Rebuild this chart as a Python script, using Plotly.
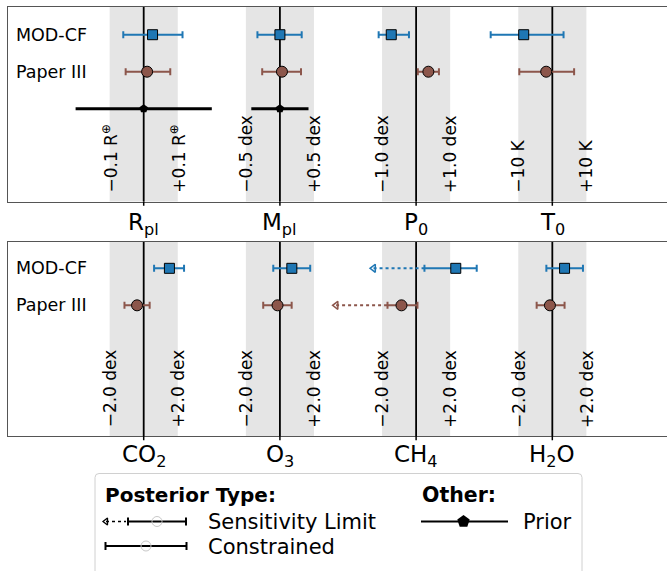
import plotly.graph_objects as go

W, H = 667, 571
FONT = "DejaVu Sans"
BLUE = "#1f77b4"
BROWN = "#8c564b"

# ---------------- data ----------------
params_top = ["R<sub>pl</sub>", "M<sub>pl</sub>", "P<sub>0</sub>", "T<sub>0</sub>"]
params_bot = ["CO<sub>2</sub>", "O<sub>3</sub>", "CH<sub>4</sub>", "H<sub>2</sub>O"]
# half-width of the grey band, in physical units
scale_top = [0.1, 0.5, 1.0, 10.0]
scale_bot = [2.0, 2.0, 2.0, 2.0]
band_lo_top = ["−0.1 R<sup>⊕</sup>", "−0.5 dex", "−1.0 dex", "−10 K"]
band_hi_top = ["+0.1 R<sup>⊕</sup>", "+0.5 dex", "+1.0 dex", "+10 K"]
band_lo_bot = ["−2.0 dex", "−2.0 dex", "−2.0 dex", "−2.0 dex"]
band_hi_bot = ["+2.0 dex", "+2.0 dex", "+2.0 dex", "+2.0 dex"]

# offsets from truth (physical units)
modcf_top_val = [0.026, 0.0, -0.73, -8.4]
modcf_top_lo = [-0.060, -0.33, -1.10, -18.1]
modcf_top_hi = [0.114, 0.32, -0.21, 3.3]
paper_top_val = [0.010, 0.03, 0.36, -1.8]
paper_top_lo = [-0.053, -0.26, 0.05, -9.7]
paper_top_hi = [0.078, 0.31, 0.67, 6.4]
prior_params = [0, 1]
prior_lo = [-0.20, -0.42]
prior_hi = [0.20, 0.42]

modcf_bot_val = [1.51, 0.70, 2.33, 0.72]
modcf_bot_lo = [0.61, -0.39, 0.49, -0.35]
modcf_bot_hi = [2.37, 1.78, 3.56, 1.80]
paper_bot_val = [-0.39, -0.14, -0.86, -0.14]
paper_bot_lo = [-1.13, -0.98, -1.68, -0.92]
paper_bot_hi = [0.35, 0.69, 0.08, 0.72]
# sensitivity limits (index of parameter, lower extent)
modcf_bot_limit = {2: -2.5}
paper_bot_limit = {2: -4.7}

row_names = ["MOD-CF", "Paper III"]
BAND = 0.25


def tx(k, v, s):
    return k + BAND * v / s


fig = go.Figure()

def add_panel(xa, ya, scales, vals_list, lims_list, colors, symbols, limits_list):
    for r, (vals, (lo, hi), col, sym, limd) in enumerate(
            zip(vals_list, lims_list, colors, symbols, limits_list)):
        xs = [tx(k, v, scales[k]) for k, v in enumerate(vals)]
        xlo = [tx(k, v, scales[k]) for k, v in enumerate(lo)]
        xhi = [tx(k, v, scales[k]) for k, v in enumerate(hi)]
        # sensitivity-limit dotted extensions
        for k, lim in limd.items():
            xl = tx(k, lim, scales[k])
            fig.add_trace(go.Scatter(x=[xl, xlo[k]], y=[r, r], mode="lines",
                                     line=dict(color=col, width=2, dash="dot"),
                                     xaxis=xa, yaxis=ya, showlegend=False, hoverinfo="skip"))
            fig.add_trace(go.Scatter(x=[xl], y=[r], mode="markers",
                                     marker=dict(symbol="triangle-left-open", size=7,
                                                 color=col, line=dict(color=col, width=1.5)),
                                     xaxis=xa, yaxis=ya, showlegend=False, hoverinfo="skip"))
        fig.add_trace(go.Scatter(
            x=xs, y=[r] * len(xs), mode="markers",
            marker=dict(symbol=sym, size=11 if sym == "circle" else 10, color=col,
                        line=dict(color="black", width=1)),
            error_x=dict(type="data", symmetric=False,
                         array=[h - x for h, x in zip(xhi, xs)],
                         arrayminus=[x - l for l, x in zip(xlo, xs)],
                         color=col, thickness=2, width=3.5),
            xaxis=xa, yaxis=ya, showlegend=False))


add_panel("x", "y", scale_top,
          [modcf_top_val, paper_top_val],
          [(modcf_top_lo, modcf_top_hi), (paper_top_lo, paper_top_hi)],
          [BLUE, BROWN], ["square", "circle"], [{}, {}])
add_panel("x2", "y2", scale_bot,
          [modcf_bot_val, paper_bot_val],
          [(modcf_bot_lo, modcf_bot_hi), (paper_bot_lo, paper_bot_hi)],
          [BLUE, BROWN], ["square", "circle"], [modcf_bot_limit, paper_bot_limit])

# priors
px = [tx(k, 0.0, scale_top[k]) for k in prior_params]
fig.add_trace(go.Scatter(
    x=px, y=[2] * len(px), mode="markers",
    marker=dict(symbol="pentagon", size=9, color="black"),
    error_x=dict(type="data", symmetric=False,
                 array=[tx(k, h, scale_top[k]) - x for k, h, x in zip(prior_params, prior_hi, px)],
                 arrayminus=[x - tx(k, l, scale_top[k]) for k, l, x in zip(prior_params, prior_lo, px)],
                 color="black", thickness=3, width=0),
    xaxis="x", yaxis="y", showlegend=False))

shapes = []
annotations = []
for xa, ya, labs_lo, labs_hi, ylab, params, ytick in [
        ("x", "y", band_lo_top, band_hi_top, 4.33, params_top, -0.033),
        ("x2", "y2", band_lo_bot, band_hi_bot, 4.36, params_bot, -0.022)]:
    for k in range(4):
        shapes.append(dict(type="rect", xref=xa, yref=ya + " domain", x0=k - BAND, x1=k + BAND,
                           y0=0, y1=1, fillcolor="#e5e5e5", line=dict(width=0), layer="below"))
        shapes.append(dict(type="line", xref=xa, yref=ya + " domain", x0=k, x1=k, y0=0, y1=1,
                           line=dict(color="black", width=1.8), layer="below"))
        # small tick mark below the axis
        shapes.append(dict(type="line", xref=xa, yref=ya + " domain", x0=k, x1=k, y0=-0.022, y1=0,
                           line=dict(color="black", width=1.5)))
        # category label under the tick
        annotations.append(dict(x=k, y=ytick, xref=xa, yref=ya + " domain", text=params[k],
                                showarrow=False, xanchor="center", yanchor="top", borderpad=0,
                                font=dict(family=FONT, size=23, color="black")))
        for xx, t in [(k - BAND, labs_lo[k]), (k + BAND, labs_hi[k])]:
            annotations.append(dict(x=xx, y=ylab, xref=xa, yref=ya, text=t, textangle=-90,
                                    showarrow=False, xanchor="center", yanchor="bottom",
                                    font=dict(family=FONT, size=17, color="black")))
    for r, nm in enumerate(row_names):
        annotations.append(dict(x=14 / W, y=r, xref="paper", yref=ya, text=nm, showarrow=False,
                                xanchor="left", yanchor="middle",
                                font=dict(family=FONT, size=17.5, color="black")))

# ---------------- legend (pixel coordinates on an overlay axis) ----------------
L = dict(xaxis="x3", yaxis="y3", showlegend=False, hoverinfo="skip")
shapes.append(dict(type="path", xref="x3", yref="y3",
                   path="M 99,473.5 L 578,473.5 Q 582,473.5 582,477.5 L 582,590 L 95,590 L 95,477.5 Q 95,473.5 99,473.5 Z",
                   fillcolor="white", line=dict(color="#d0d0d0", width=1), layer="below"))
# sensitivity limit symbol
fig.add_trace(go.Scatter(x=[106, 126], y=[521.5, 521.5], mode="lines",
                         line=dict(color="black", width=1.5, dash="dot"), **L))
fig.add_trace(go.Scatter(x=[106], y=[521.5], mode="markers",
                         marker=dict(symbol="triangle-left-open", size=6, color="black",
                                     line=dict(color="black", width=1.3)), **L))
fig.add_trace(go.Scatter(x=[157], y=[521.5], mode="markers",
                         marker=dict(symbol="circle", size=10, color="rgba(0,0,0,0)",
                                     line=dict(color="#c8c8c8", width=1)),
                         error_x=dict(type="data", symmetric=False, array=[29], arrayminus=[29],
                                      color="black", thickness=2, width=4), **L))
# constrained symbol
fig.add_trace(go.Scatter(x=[146], y=[546], mode="markers",
                         marker=dict(symbol="circle", size=10, color="rgba(0,0,0,0)",
                                     line=dict(color="#c8c8c8", width=1)),
                         error_x=dict(type="data", symmetric=False, array=[40.5], arrayminus=[40.5],
                                      color="black", thickness=2, width=4), **L))
# prior symbol
fig.add_trace(go.Scatter(x=[421, 508], y=[521.5, 521.5], mode="lines",
                         line=dict(color="black", width=2), **L))
fig.add_trace(go.Scatter(x=[463.5], y=[521.5], mode="markers",
                         marker=dict(symbol="pentagon", size=13, color="black"), **L))

for x, y, t, sz in [(103, 495, "<b>Posterior Type:</b>", 20), (420, 495, "<b>Other:</b>", 20.5),
                    (206, 521.5, "Sensitivity Limit", 21), (206, 546.5, "Constrained", 21),
                    (521, 521.5, "Prior", 21)]:
    annotations.append(dict(x=x, y=y, xref="x3", yref="y3", text=t, showarrow=False,
                            xanchor="left", yanchor="middle",
                            font=dict(family=FONT, size=sz, color="black")))

x0d = 7.5 / W
ax_common = dict(range=[-1, 3.842], tickvals=[0, 1, 2, 3], showgrid=False, zeroline=False,
                 showline=True, mirror=True, linecolor="#555555", linewidth=1.2,
                 ticks="", showticklabels=False, fixedrange=True)
ay_common = dict(showgrid=False, zeroline=False, showticklabels=False, ticks="",
                 showline=True, mirror=True, linecolor="#555555", linewidth=1.2, fixedrange=True)

fig.update_layout(
    width=W, height=H, margin=dict(l=0, r=0, t=0, b=0),
    paper_bgcolor="white", plot_bgcolor="rgba(0,0,0,0)",
    font=dict(family=FONT, color="black"),
    xaxis=dict(domain=[x0d, 1], anchor="y", **ax_common),
    yaxis=dict(domain=[1 - 201.5 / H, 1 - 7 / H], anchor="x", range=[4.508, -0.749], **ay_common),
    xaxis2=dict(domain=[x0d, 1], anchor="y2", **ax_common),
    yaxis2=dict(domain=[1 - 436 / H, 1 - 242 / H], anchor="x2", range=[4.53, -0.711], **ay_common),
    xaxis3=dict(domain=[0, 1], anchor="y3", range=[0, W], visible=False, fixedrange=True),
    yaxis3=dict(domain=[0, 1], anchor="x3", range=[H, 0], visible=False, fixedrange=True),
    shapes=shapes, annotations=annotations, showlegend=False,
)

fig.write_html("out.html", config={"displayModeBar": False},
               post_script="document.body.style.margin='0';document.body.style.overflow='hidden';")
